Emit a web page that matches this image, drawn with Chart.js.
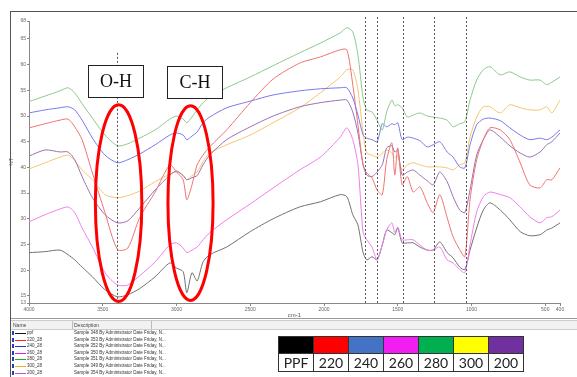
<!DOCTYPE html>
<html>
<head>
<meta charset="utf-8">
<script src="https://cdn.jsdelivr.net/npm/chart.js@4.4.0/dist/chart.umd.min.js"></script>
<style>
  body { margin: 0; width: 577px; height: 377px; position: relative; overflow: hidden; background: #fff; font-family: "Liberation Sans", Arial, sans-serif; }
  #ftir { position: absolute; left: 0; top: 0; }
  .frame { position: absolute; left: 10px; top: 11px; width: 600px; height: 400px; border: 1px solid #555; pointer-events: none; }
  .tag { position: absolute; border: 1px solid #222; background: #fff; font-family: "Liberation Serif", "DejaVu Serif", serif; font-size: 18px; color: #111; text-align: center; line-height: 31px; }
  .sep { position: absolute; left: 11px; top: 318px; width: 570px; height: 1px; border-top: 1px solid #999; border-bottom: 1px solid #ccc; }
  .head { position: absolute; left: 11px; top: 321px; width: 570px; height: 8px; background: #f2f2f2; border-bottom: 1px solid #ccc; font-size: 5px; color: #444; }
  .head span { position: absolute; top: 1px; }
  .col { position: absolute; top: 0; width: 1px; height: 8px; background: #bbb; }
  .row { position: absolute; left: 11px; height: 6px; font-size: 4.5px; line-height: 6px; color: #333; width: 200px; }
  .row .ic { position: absolute; left: 1px; top: 1px; width: 2px; height: 4px; background: #2040c0; }
  .row .ln { position: absolute; left: 4px; top: 3px; width: 11px; height: 1px; }
  .row .nm { position: absolute; left: 16px; }
  .row .ds { position: absolute; left: 63px; }
  table.key { position: absolute; left: 278px; top: 336px; border-collapse: collapse; font-family: Lato, "Open Sans", sans-serif; font-size: 14px; color: #222; }
  table.key td { border: 1px solid #333; width: 34px; padding: 0; text-align: center; }
  table.key tr.sw td { height: 16px; }
  table.key tr.lb td { height: 17px; line-height: 17px; }
</style>
</head>
<body>
<canvas id="ftir" width="577" height="320"></canvas>
<div class="frame"></div>
<div class="tag" style="left:88px; top:65px; width:54px; height:31px;">O-H</div>
<div class="tag" style="left:167px; top:66px; width:54px; height:31px;">C-H</div>

<div class="sep"></div>
<div class="head">
  <span style="left:2px;">Name</span>
  <div class="col" style="left:61px;"></div>
  <span style="left:63px;">Description</span>
  <div class="col" style="left:140px;"></div>
</div>
<div id="rows"></div>

<table class="key">
  <tr class="sw"><td style="background:#000"></td><td style="background:#ff0000"></td><td style="background:#4472c4"></td><td style="background:#f01ef0"></td><td style="background:#00b050"></td><td style="background:#ffff00"></td><td style="background:#7030a0"></td></tr>
  <tr class="lb"><td>PPF</td><td>220</td><td>240</td><td>260</td><td>280</td><td>300</td><td>200</td></tr>
</table>

<script>
// wavenumber (cm-1) of each reading
const wavenumbers = [4000, 3890, 3790, 3735, 3690, 3640, 3570, 3485, 3400, 3330,
  3250, 3145, 3045, 3000, 2955, 2930, 2895, 2860, 2820, 2775,
  2660, 2500, 2345, 2165, 2025, 1890, 1845, 1805, 1770, 1735,
  1710, 1675, 1640, 1605, 1575, 1540, 1520, 1500, 1470, 1435,
  1395, 1350, 1300, 1260, 1215, 1165, 1125, 1080, 1045, 1010,
  965, 920, 875, 805, 740, 670, 605, 535, 490, 455, 400];

// %T for each sample
const s280 = [52.8, 53.9, 54.9, 55.5, 54.5, 52.4, 49.6, 46.3, 44.2, 44.6,
  45.7, 47.3, 49.4, 50.0, 49.4, 48.7, 49.8, 51.2, 52.6, 53.7,
  55.5, 57.6, 59.8, 62.3, 64.2, 66.2, 67.2, 66.4, 61.9, 53.5,
  51.2, 50.8, 49.2, 47.3, 50.8, 53.1, 52.0, 52.2, 51.6, 49.8,
  50.2, 50.6, 50.0, 49.8, 49.6, 49.2, 47.9, 48.5, 48.9, 53.1,
  57.0, 59.0, 59.6, 58.0, 58.6, 57.6, 57.0, 57.0, 56.1, 56.6, 57.6];
const s240 = [50.6, 51.2, 51.6, 51.8, 51.2, 49.2, 45.7, 42.4, 40.9, 41.5,
  42.6, 44.4, 46.3, 46.7, 46.3, 45.4, 46.1, 46.9, 48.7, 49.8,
  51.6, 52.9, 54.1, 54.9, 55.3, 55.5, 55.5, 53.5, 50.2, 46.3,
  45.7, 45.4, 45.0, 48.5, 47.9, 48.5, 48.3, 48.7, 45.4, 45.9,
  45.7, 45.2, 44.0, 44.4, 45.0, 43.0, 42.0, 40.1, 39.9, 44.4,
  48.3, 49.4, 49.6, 49.1, 47.7, 46.3, 45.4, 45.7, 45.4, 45.9, 47.3];
const s220 = [47.7, 48.5, 49.2, 49.4, 47.9, 45.4, 38.9, 31.2, 24.0, 24.3,
  30.2, 35.2, 40.5, 39.1, 37.6, 33.7, 36.6, 40.5, 42.4, 44.0,
  47.3, 52.6, 57.2, 60.3, 61.5, 62.9, 62.9, 56.1, 48.3, 40.5,
  38.9, 38.0, 35.6, 34.7, 41.5, 44.8, 38.5, 43.8, 36.6, 38.2,
  35.2, 36.2, 33.1, 31.2, 34.7, 30.2, 26.5, 24.0, 22.6, 33.7,
  41.5, 45.4, 47.7, 47.3, 45.4, 40.9, 36.6, 36.0, 37.6, 37.6, 39.9];
const s200 = [42.2, 43.4, 43.0, 43.0, 41.5, 38.2, 34.1, 30.8, 29.2, 29.6,
  32.1, 35.6, 38.5, 39.3, 38.4, 37.6, 38.0, 38.4, 40.5, 42.4,
  45.4, 47.9, 50.0, 51.8, 52.6, 53.1, 53.1, 50.8, 46.7, 40.5,
  38.5, 38.2, 39.1, 40.5, 43.8, 44.2, 43.0, 43.4, 38.5, 39.1,
  39.5, 38.5, 37.4, 36.6, 39.1, 37.2, 34.3, 31.7, 31.2, 35.6,
  42.4, 45.4, 47.3, 45.9, 44.2, 42.8, 42.0, 43.0, 44.4, 45.0, 46.7];
const s300 = [39.7, 40.9, 42.0, 42.4, 41.3, 39.5, 37.6, 34.7, 34.1, 34.5,
  35.4, 37.2, 38.7, 39.1, 38.5, 37.6, 38.4, 39.1, 41.1, 42.8,
  44.4, 46.3, 48.7, 51.6, 54.5, 57.6, 59.0, 59.0, 55.1, 46.7,
  42.8, 42.4, 42.0, 42.8, 43.4, 42.8, 42.0, 42.2, 39.5, 40.5,
  40.9, 40.5, 40.1, 40.1, 40.1, 39.9, 39.5, 40.5, 40.9, 45.9,
  49.8, 51.8, 51.8, 50.6, 52.2, 51.6, 51.2, 51.2, 51.8, 50.6, 53.1];
const s260 = [29.4, 30.8, 31.9, 32.3, 31.2, 28.2, 24.5, 19.5, 17.1, 17.1,
  18.9, 21.6, 24.9, 25.3, 24.3, 23.4, 23.9, 24.5, 25.9, 27.3,
  29.8, 32.9, 36.0, 39.5, 42.0, 45.9, 47.7, 45.4, 40.5, 27.3,
  25.9, 24.5, 22.0, 24.9, 27.8, 29.2, 27.3, 28.4, 25.9, 25.9,
  25.9, 24.9, 23.9, 23.9, 24.5, 22.0, 21.4, 20.1, 19.5, 24.9,
  31.3, 34.3, 35.2, 34.7, 34.1, 32.3, 30.4, 29.2, 30.2, 30.4, 31.7];
const ppf = [23.4, 23.6, 23.9, 23.0, 22.0, 20.6, 18.7, 16.2, 14.8, 15.2,
  16.4, 18.7, 21.4, 20.4, 19.7, 15.6, 19.5, 17.9, 21.6, 23.0,
  24.5, 27.5, 30.0, 32.3, 33.3, 34.7, 34.3, 30.8, 28.8, 23.4,
  22.0, 22.6, 22.0, 24.9, 27.8, 27.3, 26.9, 28.2, 25.3, 25.3,
  25.3, 24.5, 23.9, 23.9, 25.5, 23.4, 22.4, 20.6, 20.1, 23.9,
  28.2, 31.7, 33.1, 31.7, 29.8, 27.5, 26.7, 26.9, 27.8, 28.2, 29.2];

const xTicks = [4000, 3500, 3000, 2500, 2000, 1500, 1000, 500, 400];
const yTicks = [13.6, 15, 20, 25, 30, 35, 40, 45, 50, 55, 60, 65, 68.5];
const yTickLabels = ["13", "15", "20", "25", "30", "35", "40", "45", "50", "55", "60", "65", "68"];

// dotted guide lines and highlighted bands
const ohLine = 3400;
const bandLines = [1722, 1641, 1464, 1254, 1037];
const bands = [
  { from: 3550, to: 3235, top: 52.2, bottom: 13.9 },
  { from: 3058, to: 2752, top: 52.0, bottom: 14.1 }
];

const legendNames = ["ppf", "220_28", "240_28", "260_28", "280_28", "300_28", "200_28"];
const legendColors = ["#111", "#ff2020", "#2030e0", "#e020e0", "#20b020", "#f0b020", "#c050e0"];
const sampleNo = [348, 353, 352, 350, 351, 349, 354];

const rows = document.getElementById("rows");
legendNames.forEach((name, i) => {
  const r = document.createElement("div");
  r.className = "row";
  r.style.top = (330 + i * 6.6) + "px";
  r.innerHTML = `<span class="ic"></span><span class="ln" style="background:${legendColors[i]}"></span>` +
    `<span class="nm">${name}</span><span class="ds">Sample ${sampleNo[i]} By Administrator Date Friday, N...</span>`;
  rows.appendChild(r);
});

const series = [
  { label: "280", data: s280, color: "#8cc98c" },
  { label: "240", data: s240, color: "#7878ee" },
  { label: "220", data: s220, color: "#ef7272" },
  { label: "200", data: s200, color: "#9c70b0" },
  { label: "300", data: s300, color: "#f6c46e" },
  { label: "260", data: s260, color: "#ef7def" },
  { label: "PPF", data: ppf, color: "#707070" }
];

const guides = {
  id: "guides",
  afterDatasetsDraw(chart) {
    const { ctx, chartArea, scales: { x, y } } = chart;
    ctx.save();
    ctx.strokeStyle = "#555";
    ctx.lineWidth = 1;
    ctx.setLineDash([2, 2]);
    const ox = Math.round(x.getPixelForValue(ohLine)) + 0.5;
    ctx.beginPath();
    ctx.moveTo(ox, y.getPixelForValue(62.3));
    ctx.lineTo(ox, y.getPixelForValue(14.3));
    ctx.stroke();
    bandLines.forEach(w => {
      const px = Math.round(x.getPixelForValue(w)) + 0.5;
      ctx.beginPath();
      ctx.moveTo(px, chartArea.top - 4);
      ctx.lineTo(px, chartArea.bottom);
      ctx.stroke();
    });
    ctx.setLineDash([]);
    ctx.strokeStyle = "#ff0000";
    ctx.lineWidth = 3;
    bands.forEach(b => {
      const x1 = x.getPixelForValue(b.from), x2 = x.getPixelForValue(b.to);
      const y1 = y.getPixelForValue(b.top), y2 = y.getPixelForValue(b.bottom);
      ctx.beginPath();
      ctx.ellipse((x1 + x2) / 2, (y1 + y2) / 2, Math.abs(x2 - x1) / 2, Math.abs(y2 - y1) / 2, 0, 0, Math.PI * 2);
      ctx.stroke();
    });
    ctx.restore();
  }
};

new Chart(document.getElementById("ftir").getContext("2d"), {
  type: "line",
  data: {
    datasets: series.map(s => ({
      label: s.label,
      data: wavenumbers.map((w, i) => ({ x: w, y: s.data[i] })),
      borderColor: s.color,
      borderWidth: 1,
      pointRadius: 0,
      tension: 0.25,
      fill: false
    }))
  },
  options: {
    responsive: false,
    animation: false,
    layout: { padding: { top: 21, right: 17, left: 0, bottom: 0 } },
    plugins: { legend: { display: false }, tooltip: { enabled: false } },
    scales: {
      x: {
        type: "linear",
        reverse: true,
        min: 400,
        max: 4000,
        afterBuildTicks: scale => { scale.ticks = xTicks.map(v => ({ value: v })); },
        afterFit: scale => { scale.height = 17; },
        ticks: { font: { size: 5 }, color: "#666", padding: 1, autoSkip: false, maxRotation: 0, callback: v => String(v) },
        grid: { display: true, drawOnChartArea: false, tickLength: 3, color: "#888" },
        border: { display: true, color: "#888", width: 1 },
        title: { display: true, text: "cm-1", font: { size: 6 }, color: "#555", padding: { top: 0, bottom: 1 } }
      },
      y: {
        min: 13.6,
        max: 68.5,
        afterBuildTicks: scale => { scale.ticks = yTicks.map(v => ({ value: v })); },
        afterFit: scale => { scale.width = 29; },
        ticks: {
          font: { size: 5 }, color: "#666", padding: 1, autoSkip: false,
          callback: v => yTickLabels[yTicks.indexOf(v)]
        },
        grid: { display: true, drawOnChartArea: false, tickLength: 2, color: "#888" },
        border: { display: true, color: "#888", width: 1 },
        title: { display: true, text: "%T", font: { size: 5 }, color: "#555", padding: { top: 9, bottom: 0 } }
      }
    }
  },
  plugins: [guides]
});
</script>
</body>
</html>
